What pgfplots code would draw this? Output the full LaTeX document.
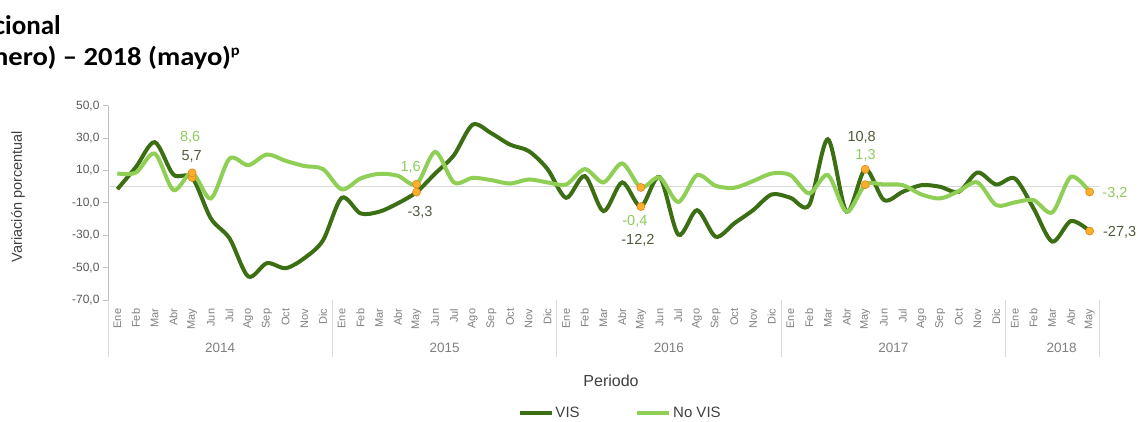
\documentclass[border=0pt]{standalone}
\usepackage{pgfplots}
\pgfplotsset{compat=1.18}
\usepackage{pgfplotstable}
\usepackage{fontspec}
\setmainfont{Liberation Sans}
\newfontfamily\calibri{Carlito}

\definecolor{vis}{HTML}{3C6E14}
\definecolor{novis}{HTML}{8FCF55}
\definecolor{vislab}{HTML}{4E5A3C}
\definecolor{novislab}{HTML}{8DCB5A}
\definecolor{mk}{HTML}{FBB02D}
\definecolor{mkd}{HTML}{E8891B}
\definecolor{axgray}{HTML}{BFBFBF}
\definecolor{zerogray}{HTML}{D9D9D9}
\definecolor{ticktext}{HTML}{595959}
\definecolor{cattext}{HTML}{7F7F7F}
\definecolor{labtext}{HTML}{404040}

% variacion anual, Ene 2014 (0) ... May 2018 (52)
\pgfplotstableread{
x y
0 -1.5
1 12.3
2 27.5
3 7.5
4 5.7
5 -19.5
6 -31.8
7 -55.3
8 -47.1
9 -50.2
10 -44.0
11 -33.0
12 -6.8
13 -16.4
14 -15.4
15 -10.2
16 -3.3
17 8.2
18 19.5
19 38.3
20 33.0
21 26.0
22 22.0
23 11.0
24 -6.8
25 6.6
26 -15.0
27 2.7
28 -12.2
29 6.0
30 -29.5
31 -14.4
32 -30.8
33 -22.5
34 -14.4
35 -4.7
36 -6.8
37 -11.3
38 29.3
39 -15.4
40 10.8
41 -8.2
42 -3.1
43 1.0
44 0.0
45 -3.1
46 8.8
47 1.4
48 5.1
49 -13.3
50 -33.8
51 -21.1
52 -27.3
}\vistab

\pgfplotstableread{
x y
0 8.2
1 8.8
2 20.5
3 -2.0
4 8.6
5 -7.2
6 17.4
7 13.3
8 19.9
9 16.0
10 12.8
11 10.9
12 -1.6
13 5.1
14 8.0
15 6.8
16 1.6
17 21.5
18 2.7
19 5.5
20 4.1
21 2.0
22 4.5
23 2.7
24 1.4
25 10.9
26 2.7
27 14.4
28 -0.4
29 5.8
30 -9.4
31 7.2
32 0.6
33 -0.6
34 3.5
35 8.2
36 7.2
37 -4.1
38 7.2
39 -15.4
40 1.3
41 1.4
42 1.0
43 -4.7
44 -7.2
45 -2.7
46 2.7
47 -11.3
48 -9.6
49 -8.2
50 -15.8
51 6.2
52 -3.2
}\novistab

% puntos de mayo con etiqueta y desplazamiento (pt)
\pgfplotstableread{
x y lab dx dy
4 5.7 5,7 -0.5 21.5
16 -3.3 -3,3 3.5 -20.4
28 -12.2 -12,2 -3 -33.7
40 10.8 10,8 -3.6 32.2
52 -27.3 -27,3 30 -1.8
}\vismay

\pgfplotstableread{
x y lab dx dy
4 8.6 8,6 -2 35.8
16 1.6 1,6 -5.8 17.2
28 -0.4 -0,4 -6 -33.8
40 1.3 1,3 0.3 29.4
52 -3.2 -3,2 25.3 -1.6
}\novismay

\begin{document}
\begin{tikzpicture}
\useasboundingbox (0pt,0pt) rectangle (1138pt,421pt);
\clip (0pt,0pt) rectangle (1138pt,421pt);

\begin{axis}[
  at={(108pt,120.7pt)}, anchor=south west,
  scale only axis, width=991pt, height=194.6pt,
  xmin=-0.5, xmax=52.5, ymin=-70, ymax=50,
  clip=false,
  axis lines=left,
  axis line style={-},
  x axis line style={draw=none},
  y axis line style={draw=axgray, line width=1pt},
  tick align=outside,
  major tick length=5pt,
  ytick={-70,-50,-30,-10,10,30,50},
  yticklabels={{-70,0},{-50,0},{-30,0},{-10,0},{10,0},{30,0},{50,0}},
  ytick style={draw=axgray, line width=1pt},
  yticklabel style={font=\fontsize{12}{14}\selectfont, text=ticktext},
  xtick={0,...,52},
  xtick style={draw=none},
  xticklabels={Ene,Feb,Mar,Abr,May,Jun,Jul,Ago,Sep,Oct,Nov,Dic,
               Ene,Feb,Mar,Abr,May,Jun,Jul,Ago,Sep,Oct,Nov,Dic,
               Ene,Feb,Mar,Abr,May,Jun,Jul,Ago,Sep,Oct,Nov,Dic,
               Ene,Feb,Mar,Abr,May,Jun,Jul,Ago,Sep,Oct,Nov,Dic,
               Ene,Feb,Mar,Abr,May},
  xticklabel style={rotate=90, anchor=east, font=\fontsize{11}{13}\selectfont, text=cattext},
  ylabel={Variación porcentual},
  ylabel style={at={(axis description cs:-0.0908,0.533)}, anchor=center,
                font=\fontsize{14.5}{17}\selectfont, text=labtext},
  xlabel={Periodo},
  xlabel style={at={(axis description cs:0.5076,-0.4147)}, anchor=center,
                font=\fontsize{16}{19}\selectfont, text=labtext},
  legend style={at={(0.517,-0.579)}, anchor=center, draw=none, fill=none,
                legend columns=2, font=\fontsize{15}{18}\selectfont, text=labtext,
                /tikz/every even column/.append style={column sep=54pt}},
  legend image code/.code={\draw[#1, line width=3.5pt] (0pt,0pt) -- (32pt,0pt);},
]
\addplot[zerogray, line width=1pt, forget plot] coordinates {(-0.5,0) (52.5,0)};
\addplot[vis, line width=4pt, smooth, mark=none] table[x=x,y=y] {\vistab};
\addlegendentry{VIS}
\addplot[novis, line width=4pt, smooth, mark=none] table[x=x,y=y] {\novistab};
\addlegendentry{No VIS}

\addplot[only marks, mark=*, mark size=4pt, mark options={fill=mk, draw=mkd, line width=0.7pt},
  forget plot, point meta=explicit symbolic,
  visualization depends on={\thisrow{dx}\as\dx},
  visualization depends on={\thisrow{dy}\as\dy},
  nodes near coords,
  every node near coord/.append style={anchor=center, xshift=\dx pt, yshift=\dy pt,
     text=vislab, font=\fontsize{14.5}{17}\selectfont}]
  table[x=x,y=y,meta=lab] {\vismay};
\addplot[only marks, mark=*, mark size=4pt, mark options={fill=mk, draw=mkd, line width=0.7pt},
  forget plot, point meta=explicit symbolic,
  visualization depends on={\thisrow{dx}\as\dx},
  visualization depends on={\thisrow{dy}\as\dy},
  nodes near coords,
  every node near coord/.append style={anchor=center, xshift=\dx pt, yshift=\dy pt,
     text=novislab, font=\fontsize{14.5}{17}\selectfont}]
  table[x=x,y=y,meta=lab] {\novismay};

% separadores de año y etiquetas de año
\pgfplotsinvokeforeach{-0.5,11.5,23.5,35.5,47.5,52.5}{
  \draw[zerogray, line width=1pt] (axis cs:#1,-70) -- ++(0pt,-57pt);
}
\node[text=cattext, font=\fontsize{13.5}{16}\selectfont, yshift=-47.7pt] at (axis cs:5.5,-70) {2014};
\node[text=cattext, font=\fontsize{13.5}{16}\selectfont, yshift=-47.7pt] at (axis cs:17.5,-70) {2015};
\node[text=cattext, font=\fontsize{13.5}{16}\selectfont, yshift=-47.7pt] at (axis cs:29.5,-70) {2016};
\node[text=cattext, font=\fontsize{13.5}{16}\selectfont, yshift=-47.7pt] at (axis cs:41.5,-70) {2017};
\node[text=cattext, font=\fontsize{13.5}{16}\selectfont, yshift=-47.7pt] at (axis cs:50.5,-70) {2018};
\end{axis}

% titulo (recortado a la izquierda, como en la imagen)
\node[anchor=base east, inner sep=0pt, font=\calibri\bfseries\fontsize{27}{32}\selectfont]
  at (61pt,386.7pt) {Total nacional};
\node[anchor=base east, inner sep=0pt, xscale=1.1, font=\calibri\bfseries\fontsize{26}{31}\selectfont]
  at (240pt,355pt) {2014 (enero) – 2018 (mayo)\raisebox{10.5pt}{\fontsize{15}{15}\selectfont p}};
\end{tikzpicture}
\end{document}
